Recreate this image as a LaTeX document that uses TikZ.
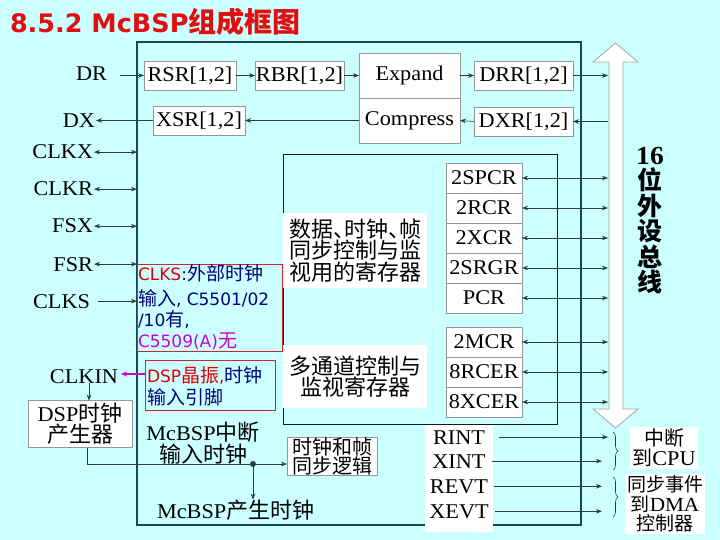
\documentclass[tikz,border=0pt]{standalone}
\usepackage{fontspec}
\setmainfont{Liberation Serif}[FakeStretch=1.06]
\newfontfamily\cjk{Noto Sans CJK SC}
\newfontfamily\notefont{DejaVu Sans}
\usetikzlibrary{arrows.meta,decorations.pathreplacing}
\definecolor{bgcol}{RGB}{204,255,255}
\definecolor{linecol}{RGB}{45,60,60}
\definecolor{outercol}{RGB}{25,70,80}
\definecolor{innercol}{RGB}{15,25,35}
\definecolor{boxgray}{RGB}{150,150,150}
\definecolor{titlered}{RGB}{225,15,15}
\definecolor{notered}{RGB}{200,40,40}
\definecolor{textred}{RGB}{225,0,0}
\definecolor{navyc}{RGB}{0,0,128}
\definecolor{magc}{RGB}{204,0,204}
\newcommand\Lsz{\fontsize{21}{20}\selectfont}
\newcommand\Cj[1]{{\cjk\fontsize{22}{20}\selectfont #1}}
\newcommand\Nsz{\notefont\fontsize{17}{20}\selectfont}
\newcommand\Nc[1]{{\cjk\fontsize{19}{20}\selectfont #1}}
\begin{document}
\begin{tikzpicture}[x=1pt,y=-1pt,
  every node/.style={inner sep=0pt, outer sep=0pt},
  regbox/.style={draw=boxgray, fill=white, line width=0.6pt, inner sep=0pt, font=\Lsz},
  arr/.style={draw=linecol, line width=0.6pt, -{Stealth[length=6pt,width=4.5pt]}},
  darr/.style={draw=linecol, line width=0.6pt, {Stealth[length=6pt,width=4.5pt]}-{Stealth[length=6pt,width=4.5pt]}},
  plain/.style={draw=linecol, line width=0.6pt},
  pin/.style={anchor=base east, font=\Lsz},
  marr/.style={draw=magc, line width=1.2pt, -{Stealth[length=6pt,width=5pt]}},
  notebox/.style={draw=notered, line width=0.8pt, anchor=north west},
  brc/.style={draw=linecol, line width=0.6pt, decorate, decoration={brace, amplitude=5pt}},
]
\fill[bgcol] (0,0) rectangle (720,540);
\useasboundingbox (0,0) rectangle (720,540);

% title
\node[anchor=base west, text=titlered] (title) at (10,33)
  {\notefont\bfseries\fontsize{25.5}{27}\selectfont 8.5.2 McBSP{\cjk\bfseries\fontsize{28}{30}\selectfont 组成框图}};

% main boxes
\node[draw=outercol, line width=1.2pt, minimum width=444pt, minimum height=483pt, anchor=north west] (mcbsp) at (137,42) {};
\node[draw=innercol, line width=1pt, minimum width=274pt, minimum height=269pt, anchor=north west] (inner) at (283,155) {};

% bus
\draw[draw=gray!70, fill=white, line width=0.8pt]
  (609,62) -- (593,62) -- (615.5,43) -- (638,62) -- (623,62) -- (623,409) -- (638,409)
  -- (615.5,428) -- (593,409) -- (609,409) -- cycle;
\coordinate (busL) at (608,0);
\node[anchor=north, align=center, font=\bfseries\fontsize{26}{25.5}\selectfont] (buslabel) at (650,147)
  {16\\{\cjk\bfseries\fontsize{25}{25.5}\selectfont 位}\\{\cjk\bfseries\fontsize{25}{25.5}\selectfont 外}\\{\cjk\bfseries\fontsize{25}{25.5}\selectfont 设}\\{\cjk\bfseries\fontsize{25}{25.5}\selectfont 总}\\{\cjk\bfseries\fontsize{25}{25.5}\selectfont 线}};

% data path boxes
\node[regbox, minimum width=92pt, minimum height=29pt] (rsr) at (190,75.5) {RSR[1,2]};
\node[regbox, minimum width=89pt, minimum height=29pt] (rbr) at (299.5,75.5) {RBR[1,2]};
\node[regbox, minimum width=101pt, minimum height=45pt] (expand) at (409.5,75.5) {Expand};
\node[regbox, minimum width=101pt, minimum height=45pt] (compress) at (409.5,120.5) {Compress};
\node[regbox, minimum width=99pt, minimum height=29pt] (drr) at (523.5,75.5) {DRR[1,2]};
\node[regbox, minimum width=99pt, minimum height=29pt] (dxr) at (523.5,121.5) {DXR[1,2]};
\node[regbox, minimum width=92pt, minimum height=29pt] (xsr) at (199,120.5) {XSR[1,2]};

% pins
\node[pin] (dr) at (107,81) {DR};
\node[pin] (dx) at (95,128) {DX};
\node[pin] (clkx) at (93,159) {CLKX};
\node[pin] (clkr) at (93,196) {CLKR};
\node[pin] (fsx) at (93,233) {FSX};
\node[pin] (fsr) at (93,271) {FSR};
\node[pin] (clks) at (90,308) {CLKS};
\node[pin] (clkin) at (118,383) {CLKIN};

\draw[arr] ([xshift=-24pt]rsr.west) -- (rsr.west);
\draw[arr] (rsr.east) -- (rbr.west);
\draw[arr] (rbr.east) -- (expand.west);
\draw[arr] (expand.east) -- (drr.west);
\draw[arr] (drr.east) -- (drr.east -| busL);
\draw[arr] (dxr.east -| busL) -- (dxr.east);
\draw[arr] (dxr.west) -- (compress.east);
\draw[arr] (compress.west) -- (xsr.east);
\draw[arr] (xsr.west) -- ([xshift=1pt]xsr.west -| dx.east);
\foreach \p in {clkx,clkr,fsx,fsr}
  \draw[darr] ([xshift=1pt]\p.east) -- (\p.east -| mcbsp.west);
\draw[arr] ([xshift=8pt]clks.east) -- (clks.east -| mcbsp.west);

% control registers
\foreach \n/\t/\y in {spcr/2SPCR/178, rcr/2RCR/208, xcr/2XCR/238, srgr/2SRGR/268, pcr/PCR/298,
                      mcr/2MCR/342, rcer/8RCER/372, xcer/8XCER/402}{
  \node[regbox, minimum width=76pt, minimum height=30pt] (\n) at (484,\y) {\t};
  \draw[darr] (\n.east) -- (\n.east -| busL);
}

\node[fill=white, minimum width=144pt, minimum height=75pt, align=center,
      font=\cjk\fontsize{22}{20}\selectfont] (ctrltext) at (355,250.5)
  {数据\makebox[11pt][l]{、}时钟\makebox[11pt][l]{、}帧\\同步控制与监\\视用的寄存器};
\node[fill=white, minimum width=144pt, minimum height=63pt, align=center,
      font=\cjk\fontsize{22}{21}\selectfont] (mchtext) at (355,376.5)
  {多通道控制与\\监视寄存器};

% CLKS note
\node[notebox, minimum width=145pt, minimum height=87pt] (clksnote) at (137,264) {};
\node[anchor=base west, font=\Nsz] (n1) at (138,280) {\textcolor{textred}{CLKS}\textcolor{navyc}{:\Nc{外部时钟}}};
\node[anchor=base west, font=\Nsz, text=navyc] (n2) at (138,305) {\Nc{输入}, C5501/02};
\node[anchor=base west, font=\Nsz, text=navyc] (n3) at (138,326) {/10\Nc{有},};
\node[anchor=base west, font=\Nsz, text=magc] (n4) at (138,347) {C5509(A)\Nc{无}};

% DSP crystal note
\node[notebox, minimum width=130pt, minimum height=50pt] (dspnote) at (145,360) {};
\node[anchor=base west, font=\Nsz] (d1) at (147,382) {\textcolor{textred}{DSP\Nc{晶振},}\textcolor{navyc}{\Nc{时钟}}};
\node[anchor=base west, font=\Nsz, text=navyc] (d2) at (147,404) {\Nc{输入引脚}};
\draw[marr] ([yshift=11pt]dspnote.west) -- ([yshift=11pt,xshift=3pt]dspnote.west -| clkin.east);

% clock generator path
\node[regbox, minimum width=104pt, minimum height=47pt, align=center] (clkgen) at (80,424)
  {DSP\Cj{时钟}\\\Cj{产生器}};
\draw[arr] ([xshift=5pt]clkin.south) -- ([xshift=5pt]clkin.south |- clkgen.north);
\node[align=center, font=\Lsz] (intclk) at (203,443) {McBSP\Cj{中断}\\\Cj{输入时钟}};
\node[regbox, minimum width=90pt, minimum height=37pt, align=center,
      font=\cjk\fontsize{20}{19}\selectfont] (syncbox) at (332,456.5) {时钟和帧\\同步逻辑};
\node[anchor=base west, font=\Lsz] (genclk) at (157,518) {McBSP\Cj{产生时钟}};
\coordinate (dot) at (253,464);
\draw[plain] ([xshift=7pt]clkgen.south) |- (dot);
\fill[linecol] (dot) circle (3pt);
\draw[arr] (dot) -- (dot -| syncbox.west);
\draw[arr] (dot) -- (dot |- genclk.north);

% interrupt / event outputs
\fill[white] (425,425) rectangle (493,532);
\node[anchor=base, font=\Lsz] (rint) at (459,444) {RINT};
\node[anchor=base, font=\Lsz] (xint) at (459,468) {XINT};
\node[anchor=base, font=\Lsz] (revt) at (459,493) {REVT};
\node[anchor=base, font=\Lsz] (xevt) at (459,518) {XEVT};
\coordinate (cpuIn) at (608,0);
\coordinate (dmaIn) at (602,0);
\draw[arr] ([xshift=14pt]rint.east) -- (rint.east -| cpuIn);
\draw[arr] ([xshift=6pt]xint.east) -- (xint.east -| dmaIn);
\draw[arr] ([xshift=6pt]revt.east) -- (revt.east -| dmaIn);
\draw[arr] ([xshift=6pt]xevt.east) -- (xevt.east -| dmaIn);
\draw[brc] (613,432) -- (613,470);
\draw[brc] (613,477) -- (613,517);
\node[fill=white, align=center, inner sep=2pt, font=\cjk\fontsize{20}{20}\selectfont] (cpu) at (664,448)
  {中断\\到{\rmfamily\fontsize{21}{20}\selectfont CPU}};
\node[fill=white, align=center, inner sep=2pt, font=\cjk\fontsize{19}{19.5}\selectfont] (dma) at (665,504)
  {同步事件\\到{\rmfamily\fontsize{20}{19.5}\selectfont DMA}\\控制器};
\end{tikzpicture}
\end{document}
